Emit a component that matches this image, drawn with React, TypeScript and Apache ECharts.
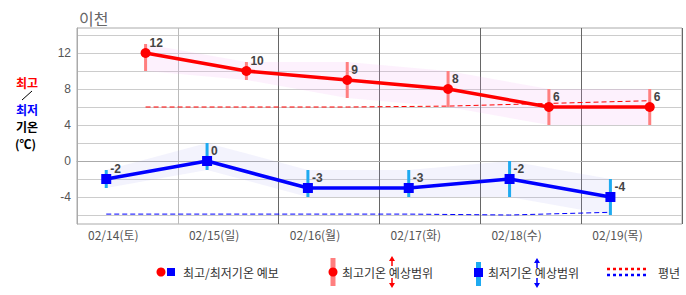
import React, { useEffect, useRef } from "react";
import * as echarts from "echarts";

const days = ["02/14(토)", "02/15(일)", "02/16(월)", "02/17(화)", "02/18(수)", "02/19(목)"];
const maxTemp = [12, 10, 9, 8, 6, 6];
const maxHigh = [13, 11, 11, 10, 8, 8];
const maxLow = [10, 9, 7, 6, 4, 4];
const minTemp = [-2, 0, -3, -3, -2, -4];
const minHigh = [-1, 2, -1, -1, 0, -2];
const minLow = [-3, -1, -4, -4, -4, -6];
const normalMax = [6, 6, 6, 6.1, 6.4, 6.7];
const normalMin = [-5.9, -5.9, -5.9, -5.9, -6, -5.7];
const yTicks = [-6, -4, -2, 0, 2, 4, 6, 8, 10, 12, 14];
const yLabels = [-4, 0, 4, 8, 12];

const MAX_OFF = 0.68;
const MIN_OFF = 0.29;
const LABEL_OFF = 0.36;
const KR = "'Noto Sans CJK KR', 'Noto Sans', sans-serif";

function band(hi: number[], lo: number[], off: number, fill: string, z: number) {
  return {
    type: "custom",
    silent: true,
    z,
    data: [[0, 0]],
    renderItem: (_p: any, api: any) => {
      const pts: number[][] = [];
      hi.forEach((v, i) => pts.push(api.coord([i + off, v])));
      for (let i = lo.length - 1; i >= 0; i--) pts.push(api.coord([i + off, lo[i]]));
      return { type: "polygon", shape: { points: pts }, style: { fill } };
    },
  };
}

function bars(hi: number[], lo: number[], off: number, color: string, z: number) {
  return {
    type: "custom",
    silent: true,
    z,
    encode: { x: 0, y: [1, 2] },
    data: lo.map((l, i) => [i + off, l, hi[i]]),
    renderItem: (_p: any, api: any) => {
      const a = api.coord([api.value(0), api.value(1)]);
      const b = api.coord([api.value(0), api.value(2)]);
      return {
        type: "line",
        shape: { x1: a[0], y1: a[1], x2: b[0], y2: b[1] },
        style: { stroke: color, lineWidth: 3 },
      };
    },
  };
}

function mainLine(vals: number[], off: number, color: string, symbol: string, z: number) {
  return {
    type: "line",
    z,
    data: vals.map((v, i) => [i + off, v]),
    symbol,
    symbolSize: 10,
    showAllSymbol: true,
    lineStyle: { color, width: 3.5 },
    itemStyle: { color },
    label: {
      show: true,
      position: "right",
      distance: 0,
      offset: [-1, -10],
      formatter: (p: any) => String(p.value[1]),
      fontWeight: "bold",
      fontSize: 12,
      color: "#444",
      fontFamily: "'Liberation Sans', Arial, sans-serif",
    },
  };
}

function normalLine(vals: number[], off: number, color: string) {
  return {
    type: "line",
    z: 2,
    silent: true,
    data: vals.map((v, i) => [i + off, v]),
    symbol: "none",
    lineStyle: { color, width: 1, type: [5, 3] },
  };
}

const txt = (x: number, y: number, text: string, fill: string, bold = false, size = 12) => ({
  type: "text",
  x,
  y,
  style: {
    text,
    fill,
    font: `${bold ? "bold " : ""}${size}px ${KR}`,
    lineHeight: size,
    verticalAlign: "middle",
    align: "left",
  },
});

export default function App() {
  const ref = useRef<HTMLDivElement>(null);
  useEffect(() => {
    document.body.style.margin = "0";
    const chart = echarts.init(ref.current!, null, { renderer: "svg" });
    const LY = 272;
    chart.setOption({
      animation: false,
      title: {
        text: "이천",
        left: 74,
        top: 5,
        textStyle: { color: "#666", fontSize: 16, fontWeight: "normal", fontFamily: KR },
      },
      grid: { left: 77, right: 4, top: 28, bottom: 71, show: true, borderColor: "#aaa", borderWidth: 1 },
      xAxis: {
        type: "value",
        min: 0,
        max: 6,
        interval: 1,
        axisLine: { show: true, lineStyle: { color: "#aaa" } },
        axisTick: { show: false },
        axisLabel: {
          customValues: days.map((_, i) => i + LABEL_OFF),
          formatter: (v: number) => days[Math.round(v - LABEL_OFF)] ?? "",
          color: "#555",
          fontSize: 12,
          margin: 4,
          fontFamily: KR,
        },
        splitLine: {
          show: true,
          lineStyle: { color: ["#bbb", "#bbb", "#666", "#666", "#666", "#666", "#666"], width: 1 },
        },
      },
      yAxis: {
        type: "value",
        min: -7,
        max: 14.78,
        axisLine: { show: true, lineStyle: { color: "#aaa" } },
        axisTick: { show: false, customValues: yTicks },
        axisLabel: { customValues: yLabels, color: "#555", fontSize: 12, margin: 6, fontFamily: "'Liberation Sans', Arial, sans-serif" },
        splitLine: { show: true, lineStyle: { color: "#ccc", width: 1 } },
      },
      series: [
        band(maxHigh, maxLow, MAX_OFF, "rgba(240,170,240,0.16)", 1),
        band(minHigh, minLow, MIN_OFF, "rgba(160,160,240,0.13)", 1),
        normalLine(normalMax, MAX_OFF, "#ff0000"),
        normalLine(normalMin, MIN_OFF, "#0000ff"),
        bars(maxHigh, maxLow, MAX_OFF, "#ff7f7f", 3),
        bars(minHigh, minLow, MIN_OFF, "#1eaaf0", 3),
        mainLine(maxTemp, MAX_OFF, "#ff0000", "circle", 4),
        mainLine(minTemp, MIN_OFF, "#0000ff", "rect", 4),
      ],
      graphic: [
        txt(16, 82, "최고", "#ff0000", true, 12),
        { type: "line", shape: { x1: 22, y1: 100, x2: 32, y2: 91 }, style: { stroke: "#000", lineWidth: 1 } },
        txt(16, 109, "최저", "#0000ff", true, 12),
        txt(16, 126, "기온", "#000", true, 12),
        txt(15, 143, "(℃)", "#000", true, 12),
        // legend 1
        { type: "circle", shape: { cx: 161, cy: LY, r: 4.5 }, style: { fill: "#ff0000" } },
        { type: "rect", shape: { x: 167, y: LY - 4, width: 8, height: 8 }, style: { fill: "#0000ff" } },
        txt(183, LY, "최고/최저기온 예보", "#333"),
        // legend 2
        { type: "rect", shape: { x: 330.5, y: 258, width: 5, height: 28 }, style: { fill: "#ff7f7f" } },
        { type: "circle", shape: { cx: 333, cy: LY, r: 4.5 }, style: { fill: "#ff0000" } },
        txt(342, LY, "최고기온 예상범위", "#333"),
        { type: "line", shape: { x1: 392, y1: 259, x2: 392, y2: 266 }, style: { stroke: "#ff0000", lineWidth: 1.5 } },
        { type: "polygon", shape: { points: [[392, 256], [389, 261], [395, 261]] }, style: { fill: "#ff0000" } },
        { type: "line", shape: { x1: 392, y1: 278, x2: 392, y2: 285 }, style: { stroke: "#ff0000", lineWidth: 1.5 } },
        { type: "polygon", shape: { points: [[392, 288], [389, 283], [395, 283]] }, style: { fill: "#ff0000" } },
        // legend 3
        { type: "rect", shape: { x: 476, y: 262, width: 5, height: 24 }, style: { fill: "#1eaaf0" } },
        { type: "rect", shape: { x: 474, y: LY - 4, width: 9, height: 9 }, style: { fill: "#0000ff" } },
        txt(488, LY, "최저기온 예상범위", "#333"),
        { type: "line", shape: { x1: 537, y1: 262, x2: 537, y2: 268 }, style: { stroke: "#0000ff", lineWidth: 1.5 } },
        { type: "polygon", shape: { points: [[537, 258], [534, 263], [540, 263]] }, style: { fill: "#0000ff" } },
        { type: "line", shape: { x1: 537, y1: 278, x2: 537, y2: 285 }, style: { stroke: "#0000ff", lineWidth: 1.5 } },
        { type: "polygon", shape: { points: [[537, 288], [534, 283], [540, 283]] }, style: { fill: "#0000ff" } },
        // legend 4
        { type: "line", shape: { x1: 607, y1: 269, x2: 648, y2: 269 }, style: { stroke: "#ff0000", lineWidth: 2.5, lineDash: [3, 3] } },
        { type: "line", shape: { x1: 607, y1: 275, x2: 648, y2: 275 }, style: { stroke: "#0000ff", lineWidth: 2.5, lineDash: [3, 3] } },
        txt(658, LY, "평년", "#333"),
      ],
    });
    return () => chart.dispose();
  }, []);
  return <div ref={ref} style={{ width: 686, height: 295 }} />;
}
